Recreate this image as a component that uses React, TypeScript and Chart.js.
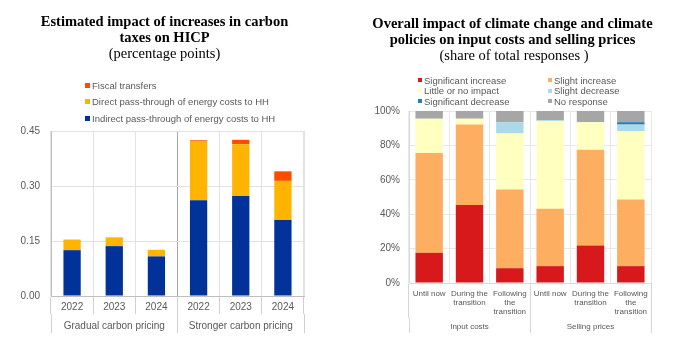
import React, { useEffect, useRef } from "react";
import { Chart, registerables } from "chart.js";
Chart.register(...registerables);

// ---------- Left chart data ----------
const leftYears = ["2022", "2023", "2024", "2022", "2023", "2024"];
const leftGroups = ["Gradual carbon pricing", "Stronger carbon pricing"];
const indirectPassThrough = [0.125, 0.136, 0.108, 0.261, 0.273, 0.207];
const directPassThrough = [0.029, 0.024, 0.018, 0.162, 0.141, 0.107];
const fiscalTransfers = [0, 0, 0, 0.002, 0.012, 0.026];
const leftSeriesNames = [
  "Indirect pass-through of energy costs to HH",
  "Direct pass-through of energy costs to HH",
  "Fiscal transfers",
];
const leftColors = ["#003299", "#ffb400", "#ff4b00"];

// ---------- Right chart data ----------
const rightCats = [
  ["Until now"],
  ["During the", "transition"],
  ["Following", "the", "transition"],
  ["Until now"],
  ["During the", "transition"],
  ["Following", "the", "transition"],
];
const rightGroups = ["Input costs", "Selling prices"];
const significantIncrease = [17.5, 45.4, 8.6, 9.8, 21.8, 9.8];
const slightIncrease = [58.1, 46.7, 45.7, 33.4, 55.7, 38.7];
const littleOrNoImpact = [19.9, 3.4, 32.6, 50.8, 16.0, 39.7];
const slightDecrease = [0, 0, 6.6, 0.6, 0, 3.9];
const significantDecrease = [0, 0, 0, 0, 0, 1.4];
const noResponse = [4.5, 4.5, 6.5, 5.4, 6.5, 6.5];
const rightSeriesNames = [
  "Significant increase",
  "Slight increase",
  "Little or no impact",
  "Slight decrease",
  "Significant decrease",
  "No response",
];
const rightColors = ["#d7191c", "#fdae61", "#ffffbf", "#abd9e9", "#2c7bb6", "#a6a6a6"];

const SANS = "'Liberation Sans', Arial, sans-serif";
const SERIF = "'Liberation Serif', 'Times New Roman', serif";
const TXT = "#595959";

function LeftChart() {
  const ref = useRef<HTMLCanvasElement>(null);
  useEffect(() => {
    const series = [indirectPassThrough, directPassThrough, fiscalTransfers];
    const chart = new Chart(ref.current as HTMLCanvasElement, {
      type: "bar",
      data: {
        labels: leftYears,
        datasets: series.map((d, i) => ({
          label: leftSeriesNames[i],
          data: d,
          backgroundColor: leftColors[i],
          barPercentage: 0.41,
          categoryPercentage: 1,
        })),
      },
      options: {
        responsive: false,
        animation: false,
        layout: { padding: { left: 0, right: 41, top: 131, bottom: 19 } },
        plugins: { legend: { display: false }, tooltip: { enabled: false }, title: { display: false } },
        scales: {
          x: {
            type: "category",
            stacked: true,
            offset: true,
            weight: 1,
            grid: { offset: true, color: "#e2e2e2", tickColor: "#d0d0d0", tickLength: 18, drawOnChartArea: true },
            border: { color: "#bfbfbf" },
            ticks: { padding: -13, color: TXT, font: { family: SANS, size: 10 }, maxRotation: 0, autoSkip: false },
            afterFit: (s: any) => { s.height = 18; },
          },
          g: {
            type: "category",
            labels: leftGroups,
            position: "bottom",
            offset: true,
            weight: 2,
            grid: {
              offset: true,
              drawOnChartArea: true,
              color: (ctx: any) => (ctx.index === 1 ? "#a6a6a6" : "#e2e2e2"),
              tickColor: "#d0d0d0",
              tickLength: 19,
            },
            border: { display: false },
            ticks: { padding: -13, color: TXT, font: { family: SANS, size: 10 }, maxRotation: 0, autoSkip: false },
            afterFit: (s: any) => { s.height = 19; },
          },
          y: {
            stacked: true,
            min: 0,
            max: 0.45,
            ticks: {
              stepSize: 0.15,
              padding: 11,
              color: TXT,
              font: { family: SANS, size: 10 },
              callback: (v: any) => Number(v).toFixed(2),
            },
            grid: { color: "#e2e2e2", drawTicks: false },
            border: { color: "#bfbfbf" },
            afterFit: (s: any) => { s.width = 51; },
          },
        } as any,
      },
    });
    return () => chart.destroy();
  }, []);
  return (
    <canvas
      ref={ref}
      width={345}
      height={352}
      style={{ position: "absolute", left: 0, top: 0, width: 345, height: 352 }}
    />
  );
}

function RightChart() {
  const ref = useRef<HTMLCanvasElement>(null);
  useEffect(() => {
    const series = [significantIncrease, slightIncrease, littleOrNoImpact, slightDecrease, significantDecrease, noResponse];
    const chart = new Chart(ref.current as HTMLCanvasElement, {
      type: "bar",
      data: {
        labels: rightCats as any,
        datasets: series.map((d, i) => ({
          label: rightSeriesNames[i],
          data: d,
          backgroundColor: rightColors[i],
          barPercentage: 0.68,
          categoryPercentage: 1,
        })),
      },
      options: {
        responsive: false,
        animation: false,
        layout: { padding: { left: 0, right: 39, top: 111, bottom: 19 } },
        plugins: { legend: { display: false }, tooltip: { enabled: false }, title: { display: false } },
        scales: {
          x: {
            type: "category",
            stacked: true,
            offset: true,
            weight: 1,
            grid: {
              offset: true,
              color: "#e8e8e8",
              tickColor: (ctx: any) =>
                ctx.index === undefined || ctx.index % 3 === 0 ? "#d6d6d6" : "rgba(0,0,0,0)",
              tickLength: 35,
              drawOnChartArea: true,
            },
            border: { color: "#d9d9d9" },
            ticks: {
              padding: -29,
              color: TXT,
              font: { family: SANS, size: 8, lineHeight: 1.125 },
              maxRotation: 0,
              autoSkip: false,
            },
            afterFit: (s: any) => { s.height = 35; },
          },
          g: {
            type: "category",
            labels: rightGroups,
            position: "bottom",
            offset: true,
            weight: 2,
            grid: { offset: true, drawOnChartArea: false, color: "#d6d6d6", tickLength: 15 },
            border: { display: false },
            ticks: { padding: -11.5, color: TXT, font: { family: SANS, size: 8 }, maxRotation: 0, autoSkip: false },
            afterFit: (s: any) => { s.height = 15; },
          },
          y: {
            stacked: true,
            min: 0,
            max: 100,
            ticks: {
              stepSize: 20,
              padding: 9,
              color: TXT,
              font: { family: SANS, size: 10 },
              callback: (v: any) => v + "%",
            },
            grid: { color: "#e8e8e8", drawTicks: false },
            border: { color: "#d9d9d9" },
            afterFit: (s: any) => { s.width = 64; },
          },
        } as any,
      },
    });
    return () => chart.destroy();
  }, []);
  return (
    <canvas
      ref={ref}
      width={345}
      height={352}
      style={{ position: "absolute", left: 345, top: 0, width: 345, height: 352 }}
    />
  );
}

const titleStyle: React.CSSProperties = {
  position: "absolute",
  textAlign: "center",
  fontFamily: SERIF,
  fontSize: 14.5,
  lineHeight: "16px",
  color: "#000",
  whiteSpace: "nowrap",
};

function Swatch({ color, size }: { color: string; size: number }) {
  return (
    <span
      style={{ display: "inline-block", width: size, height: size, background: color, marginRight: 2, verticalAlign: "middle", position: "relative", top: -1 }}
    />
  );
}

export default function App() {
  const leftLegendOrder = [2, 1, 0];
  const rightLegendRows = [[0, 1], [2, 3], [4, 5]];
  return (
    <div style={{ position: "absolute", left: 0, top: 0, width: 690, height: 352, background: "#fff", overflow: "hidden" }}>
      <LeftChart />
      <RightChart />
      <div style={{ ...titleStyle, left: 0, width: 329, top: 13 }}>
        <div style={{ fontWeight: "bold" }}>Estimated impact of increases in carbon</div>
        <div style={{ fontWeight: "bold" }}>taxes on HICP</div>
        <div>(percentage points)</div>
      </div>
      <div style={{ ...titleStyle, left: 345, width: 335, top: 15 }}>
        <div style={{ fontWeight: "bold" }}>Overall impact of climate change and climate</div>
        <div style={{ fontWeight: "bold" }}>policies on input costs and selling prices</div>
        <div style={{ paddingLeft: 3 }}>(share of total responses )</div>
      </div>
      {leftLegendOrder.map((si, r) => (
        <div
          key={si}
          style={{ position: "absolute", left: 85, top: 80 + r * 16.3, fontFamily: SANS, fontSize: 9.5, lineHeight: "12px", color: TXT, whiteSpace: "nowrap" }}
        >
          <Swatch color={leftColors[si]} size={5} />
          {leftSeriesNames[si]}
        </div>
      ))}
      {rightLegendRows.map((row, r) =>
        row.map((si, c) => (
          <div
            key={si}
            style={{ position: "absolute", left: c === 0 ? 418 : 548, top: 75 + r * 10.4, fontFamily: SANS, fontSize: 9.5, lineHeight: "12px", color: TXT, whiteSpace: "nowrap" }}
          >
            <Swatch color={rightColors[si]} size={4} />
            {rightSeriesNames[si]}
          </div>
        ))
      )}
    </div>
  );
}
